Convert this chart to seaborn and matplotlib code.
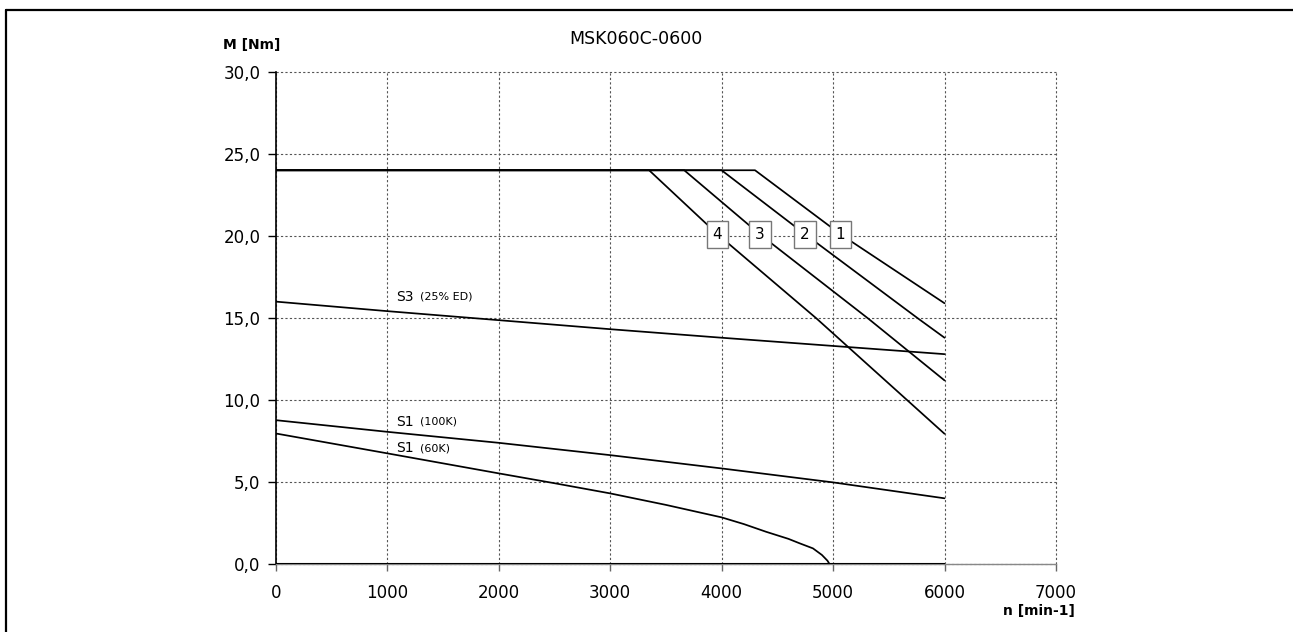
import matplotlib.pyplot as plt
import seaborn as sns
from matplotlib.lines import Line2D
from matplotlib.ticker import FuncFormatter, MultipleLocator

# drehzahl n [min-1] / moment M [Nm]
n_s3 = [0, 1000, 2000, 3000, 4000, 5000, 6000]
m_s3 = [16.0, 15.42, 14.87, 14.32, 13.8, 13.3, 12.8]

n_s1_100 = [0, 1000, 2000, 3000, 4000, 5000, 6000]
m_s1_100 = [8.78, 8.07, 7.40, 6.65, 5.84, 4.99, 4.02]

n_s1_60 = [0, 1000, 2000, 2500, 3000, 3500, 4000, 4200, 4400, 4600, 4700, 4820, 4900, 4950, 4970]
m_s1_60 = [7.97, 6.76, 5.54, 4.94, 4.32, 3.62, 2.86, 2.45, 1.98, 1.55, 1.28, 0.97, 0.57, 0.22, 0.0]

# Mmax-kurven 1..4 (punkt 3 = lage des nummernkaestchens)
n_k1 = [0, 4300, 5067, 6000]
m_k1 = [24.0, 24.0, 20.1, 15.9]
n_k2 = [0, 4000, 4750, 5763, 6000]
m_k2 = [24.0, 24.0, 20.1, 14.97, 13.8]
n_k3 = [0, 3665, 4343, 5315, 6000]
m_k3 = [24.0, 24.0, 20.1, 14.97, 11.2]
n_k4 = [0, 3350, 3964, 4852, 6000]
m_k4 = [24.0, 24.0, 20.1, 14.97, 7.95]
kurven_nr = ['1', '2', '3', '4']

sns.set_theme(style="white")
plt.rcParams['font.family'] = ['DejaVu Sans']
plt.rcParams['text.color'] = 'black'
plt.rcParams['xtick.labelcolor'] = 'black'
plt.rcParams['ytick.labelcolor'] = 'black'

fig = plt.figure(figsize=(12.93, 6.32), dpi=100)
ax = fig.add_axes([0.2132, 0.1071, 0.6035, 0.7794])

for nx, my in [(n_s3, m_s3), (n_s1_100, m_s1_100), (n_s1_60, m_s1_60)]:
    sns.lineplot(x=nx, y=my, ax=ax, color='black', lw=1.25)

kurven = [(n_k1, m_k1), (n_k2, m_k2), (n_k3, m_k3), (n_k4, m_k4)]
for (nx, my), nr in zip(kurven, kurven_nr):
    sns.lineplot(x=nx, y=my, ax=ax, color='black', lw=1.25)
    ax.text(nx[2], my[2], nr, ha='center', va='center', fontsize=11, zorder=5,
            bbox=dict(boxstyle='square,pad=0.4', fc='white', ec='#777777', lw=1))

# nulllinie bis n max
ax.hlines(0, n_s3[0], n_s3[-1], color='black', lw=1.5, zorder=4)

ax.set_xlim(0, 7000)
ax.set_ylim(0, 30)
ax.xaxis.set_major_locator(MultipleLocator(1000))
ax.yaxis.set_major_locator(MultipleLocator(5))
ax.yaxis.set_major_formatter(FuncFormatter(lambda v, p: f'{v:.1f}'.replace('.', ',')))
ax.grid(True, color='#555555', linestyle=(0, (2, 2)), lw=0.8)
for g in ax.get_xgridlines() + ax.get_ygridlines():
    g.set_clip_on(False)
for s in ['top', 'right']:
    ax.spines[s].set_visible(False)
ax.spines['left'].set_color('black')
ax.spines['left'].set_linewidth(1.2)
ax.spines['bottom'].set_color('#888888')
ax.spines['bottom'].set_linewidth(1.0)
ax.tick_params(axis='y', left=True, length=6, width=1, color='black', pad=5, labelsize=12)
ax.tick_params(axis='x', bottom=True, length=5, width=1, color='#666666', pad=9, labelsize=12)
ax.set_xlabel('')
ax.set_ylabel('')

# kurvenbeschriftung
ax.text(1085, 16.29, 'S3', fontsize=10, ha='left', va='center')
ax.text(1294, 16.29, '(25% ED)', fontsize=8, ha='left', va='center')
ax.text(1085, 8.68, 'S1', fontsize=10, ha='left', va='center')
ax.text(1294, 8.68, '(100K)', fontsize=8, ha='left', va='center')
ax.text(1085, 7.06, 'S1', fontsize=10, ha='left', va='center')
ax.text(1294, 7.06, '(60K)', fontsize=8, ha='left', va='center')

fig.text(636 / 1293, 1 - 39 / 632, 'MSK060C-0600', fontsize=12.5, ha='center', va='center')
fig.text(252 / 1293, 1 - 45 / 632, 'M [Nm]', fontsize=10, fontweight='bold', ha='center', va='center')
fig.text(1075 / 1293, 1 - 611 / 632, 'n [min-1]', fontsize=10, fontweight='bold', ha='right', va='center')

# rahmen oben und links
fig.add_artist(Line2D([6 / 1293, 1], [1 - 10 / 632, 1 - 10 / 632], color='black', lw=1.6))
fig.add_artist(Line2D([6 / 1293, 6 / 1293], [0, 1 - 10 / 632], color='black', lw=1.6))

plt.savefig('out.png')
